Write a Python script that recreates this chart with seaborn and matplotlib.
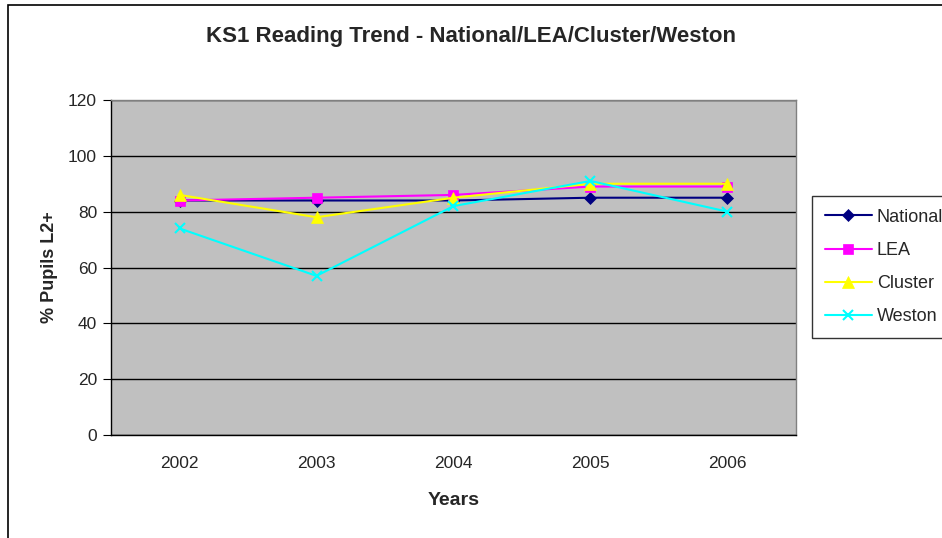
import pandas as pd
import numpy as np
import matplotlib.pyplot as plt
import seaborn as sns
from matplotlib.patches import Rectangle

# --- 1. DATA ---
years = ['2002', '2003', '2004', '2005', '2006']
national = [84, 84, 84, 85, 85]
lea = [84, 85, 86, 89, 89]
cluster = [86, 78, 85, 90, 90]
weston = [74, 57, 82, 91, 80]

series_names = ['National', 'LEA', 'Cluster', 'Weston']
df = pd.DataFrame({
    'Years': years * 4,
    'Series': np.repeat(series_names, len(years)),
    'Value': national + lea + cluster + weston,
})
df['pos'] = df['Years'].map({y: i for i, y in enumerate(years)})

palette = {'National': '#000080', 'LEA': '#FF00FF', 'Cluster': '#FFFF00', 'Weston': '#00FFFF'}
markers = {'National': 'D', 'LEA': 's', 'Cluster': '^', 'Weston': 'x'}
msize = {'National': 6.5, 'LEA': 7.5, 'Cluster': 8.5, 'Weston': 7.5}

# --- 2. PLOTTING SETUP ---
sns.set_style('white')
plt.rcParams['font.family'] = ['Liberation Sans', 'DejaVu Sans']

fig = plt.figure(figsize=(9.42, 5.38), dpi=100)
ax = fig.add_axes([111 / 942, 1 - 435 / 538, (796 - 111) / 942, (435 - 100) / 538])
ax.set_facecolor('#C0C0C0')

for name in series_names:
    sub = df[df['Series'] == name]
    sns.lineplot(data=sub, x='pos', y='Value', ax=ax, color=palette[name],
                 marker=markers[name], markersize=msize[name], markeredgecolor=palette[name],
                 markeredgewidth=1.5 if name == 'Weston' else 0.5,
                 linewidth=1.5, label=name, zorder=3)

# --- 3. AXES ---
ax.set_xlim(-0.5, len(years) - 0.5)
ax.set_ylim(0, 120)
ax.set_yticks(range(0, 121, 20))
ax.yaxis.grid(True, color='black', linewidth=1)
ax.set_axisbelow(True)

ax.set_xticks(np.arange(len(years)))
ax.set_xticklabels(years)
ax.set_xticks(np.arange(-0.5, len(years)), minor=True)
ax.tick_params(axis='x', which='major', length=0, pad=15, labelsize=12.5)
ax.tick_params(axis='x', which='minor', length=5, direction='out', color='black')
ax.tick_params(axis='y', length=6, direction='out', color='black', labelsize=12.5, left=True, pad=4)

for side in ['top', 'right']:
    ax.spines[side].set_color('#808080')
for side in ['left', 'bottom']:
    ax.spines[side].set_color('black')
for s in ax.spines.values():
    s.set_linewidth(1)

ax.set_xlabel('Years', fontsize=14, fontweight='bold', labelpad=15)
ax.set_ylabel('% Pupils L2+', fontsize=13, fontweight='bold', labelpad=7)
fig.text(471 / 942, 1 - 37 / 538, 'KS1 Reading Trend - National/LEA/Cluster/Weston',
         ha='center', va='center', fontsize=16, fontweight='bold')

# --- 4. LEGEND ---
leg = ax.legend(loc='upper left', bbox_to_anchor=(812 / 942, 1 - 196 / 538),
                bbox_transform=fig.transFigure, borderaxespad=0, fontsize=13,
                frameon=True, fancybox=False, edgecolor='black', handlelength=2.6,
                handletextpad=0.3, labelspacing=0.9, borderpad=0.7)
leg.get_frame().set_linewidth(1)

# outer chart border
fig.patches.append(Rectangle((8 / 942, -0.1), 1.5, 1.1 - 5 / 538, transform=fig.transFigure,
                             fill=False, edgecolor='black', linewidth=1.2))

# --- 5. SAVE ---
fig.savefig('out.png', dpi=100)
